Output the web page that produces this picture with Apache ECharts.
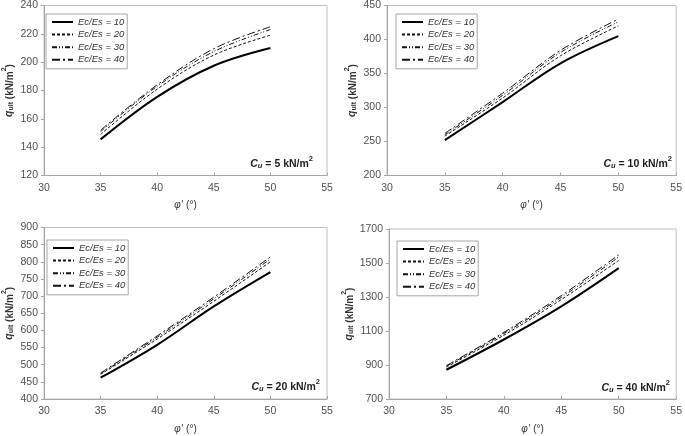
<!DOCTYPE html>
<html><head><meta charset="utf-8">
<script src="https://cdn.jsdelivr.net/npm/echarts@6/dist/echarts.min.js"></script>
<style>html,body{margin:0;padding:0;background:#fff}#c{width:685px;height:436px}</style>
</head><body><div id="c"></div>
<script>
// ---- data ----
const phi = [35, 40, 45, 50];
const seriesNames = ['Ec/Es = 10', 'Ec/Es = 20', 'Ec/Es = 30', 'Ec/Es = 40'];
const cuLabels = ['5', '10', '20', '40'];
// Cu = 5
const cu5_r10 = [145.5, 175.5, 197.5, 210];
const cu5_r20 = [149, 181, 205, 219];
const cu5_r30 = [151, 183, 207.5, 223];
const cu5_r40 = [152, 184, 209.5, 225];
// Cu = 10
const cu10_r10 = [252, 308, 365, 405];
const cu10_r20 = [258, 314, 376, 420];
const cu10_r30 = [260, 318, 381, 426];
const cu10_r40 = [262, 321, 384, 430];
// Cu = 20
const cu20_r10 = [462, 558, 670, 770];
const cu20_r20 = [472, 575, 685, 800];
const cu20_r30 = [474, 580, 692, 808];
const cu20_r40 = [476, 584, 697, 814];
// Cu = 40
const cu40_r10 = [872, 1050, 1245, 1470];
const cu40_r20 = [888, 1075, 1285, 1515];
const cu40_r30 = [893, 1085, 1298, 1535];
const cu40_r40 = [897, 1092, 1308, 1548];
// axis ranges
const xMin = 30, xMax = 55, xStep = 5;
const yRanges = [[120, 240, 20], [200, 450, 50], [400, 900, 50], [700, 1700, 200]];

const panels = [
  [cu5_r10, cu5_r20, cu5_r30, cu5_r40],
  [cu10_r10, cu10_r20, cu10_r30, cu10_r40],
  [cu20_r10, cu20_r20, cu20_r30, cu20_r40],
  [cu40_r10, cu40_r20, cu40_r30, cu40_r40]
];

// ---- layout ----
const grids = [
  {left: 37, top: 5, width: 290, height: 170.5},
  {left: 387, top: 5, width: 295, height: 170.5},
  {left: 37, top: 227.5, width: 290, height: 172},
  {left: 389, top: 229, width: 293, height: 171.5}
];
const legendPos = [[46, 14], [396, 14], [47, 240], [397, 241]];
const notePos = [[372, 155], [13, 155], [365, 378], [15, 379]];

const lineStyles = [
  {color: '#000', width: 2, type: 'solid'},
  {color: '#111', width: 1, type: [3, 2]},
  {color: '#111', width: 1, type: [5, 2, 1, 2, 1, 2]},
  {color: '#111', width: 1, type: [8, 3, 2, 3]}
];

const FONT = 'Liberation Sans';
const axisGray = '#a6a6a6';
const labelColor = '#505050';

const option = {
  animation: false,
  backgroundColor: '#fff',
  grid: grids.map(g => Object.assign({show: true, borderColor: '#bfbfbf', borderWidth: 1, containLabel: false}, g)),
  xAxis: grids.map((g, i) => ({
    type: 'value', gridIndex: i, min: xMin, max: xMax, interval: xStep,
    splitLine: {show: false},
    axisLine: {show: true, lineStyle: {color: axisGray}},
    axisTick: {show: true, inside: true, length: 3, lineStyle: {color: axisGray}},
    axisLabel: {color: labelColor, fontSize: 10.5, fontFamily: FONT, margin: 7},
    name: "{p|φ'} {t|(°)}", nameLocation: 'middle', nameGap: 24,
    nameTextStyle: {rich: {
      p: {fontStyle: 'italic', fontSize: 10, fontFamily: FONT, color: '#333'},
      t: {fontSize: 10, fontFamily: FONT, color: '#333'}
    }}
  })),
  yAxis: grids.map((g, i) => ({
    type: 'value', gridIndex: i, min: yRanges[i][0], max: yRanges[i][1], interval: yRanges[i][2],
    splitLine: {show: false},
    axisLine: {show: true, lineStyle: {color: axisGray}},
    axisTick: {show: true, length: 3, lineStyle: {color: axisGray}},
    axisLabel: {color: labelColor, fontSize: 10.5, fontFamily: FONT, margin: 6, formatter: v => String(v)},
    name: '{q|q}{s|ult}{t| (kN/m}{p|2}{t|)}', nameLocation: 'middle', nameRotate: 90,
    nameGap: i === 3 ? 34 : 29,
    nameTextStyle: {rich: {
      q: {fontStyle: 'italic', fontWeight: 'bold', fontSize: 10.5, fontFamily: FONT, color: '#333', verticalAlign: 'bottom', lineHeight: 14},
      s: {fontSize: 7, fontWeight: 'bold', fontFamily: FONT, color: '#333', verticalAlign: 'bottom', lineHeight: 11},
      t: {fontSize: 10, fontWeight: 'bold', fontFamily: FONT, color: '#333', verticalAlign: 'bottom', lineHeight: 14},
      p: {fontSize: 7, fontWeight: 'bold', fontFamily: FONT, color: '#333', verticalAlign: 'top', lineHeight: 10}
    }}
  })),
  legend: legendPos.map((p, i) => ({
    left: p[0], top: p[1], orient: 'vertical',
    data: seriesNames,
    padding: [3, 3, 4, 5], itemGap: 2.6, itemWidth: 21, itemHeight: 10,
    borderColor: '#a6a6a6', borderWidth: 1,
    selectedMode: false,
    itemStyle: {opacity: 0},
    textStyle: {fontStyle: 'italic', fontSize: 9.5, fontFamily: FONT, color: '#333'}
  })),
  series: [],
  graphic: notePos.map((p, i) => ({
    type: 'text', right: p[0], top: p[1],
    style: {
      text: '{c|C}{u|u}{n| = ' + cuLabels[i] + ' kN/m}{p|2}',
      rich: {
        c: {fontStyle: 'italic', fontWeight: 'bold', fontSize: 10.5, fontFamily: FONT, fill: '#222', verticalAlign: 'bottom', lineHeight: 15},
        u: {fontStyle: 'italic', fontWeight: 'bold', fontSize: 7.5, fontFamily: FONT, fill: '#222', verticalAlign: 'bottom', lineHeight: 12},
        n: {fontWeight: 'bold', fontSize: 10.5, fontFamily: FONT, fill: '#222', verticalAlign: 'bottom', lineHeight: 15},
        p: {fontWeight: 'bold', fontSize: 7.5, fontFamily: FONT, fill: '#222', verticalAlign: 'top', lineHeight: 10}
      }
    }
  }))
};

panels.forEach((arrs, gi) => {
  arrs.forEach((vals, si) => {
    option.series.push({
      type: 'line', name: seriesNames[si],
      xAxisIndex: gi, yAxisIndex: gi,
      data: phi.map((x, k) => [x, vals[k]]),
      smooth: 0.35, symbol: 'none', showSymbol: false,
      lineStyle: lineStyles[si], itemStyle: {color: lineStyles[si].color},
      z: 4 - si
    });
  });
});

const chart = echarts.init(document.getElementById('c'), null, {renderer: 'canvas'});
chart.setOption(option);
</script>
</body></html>
